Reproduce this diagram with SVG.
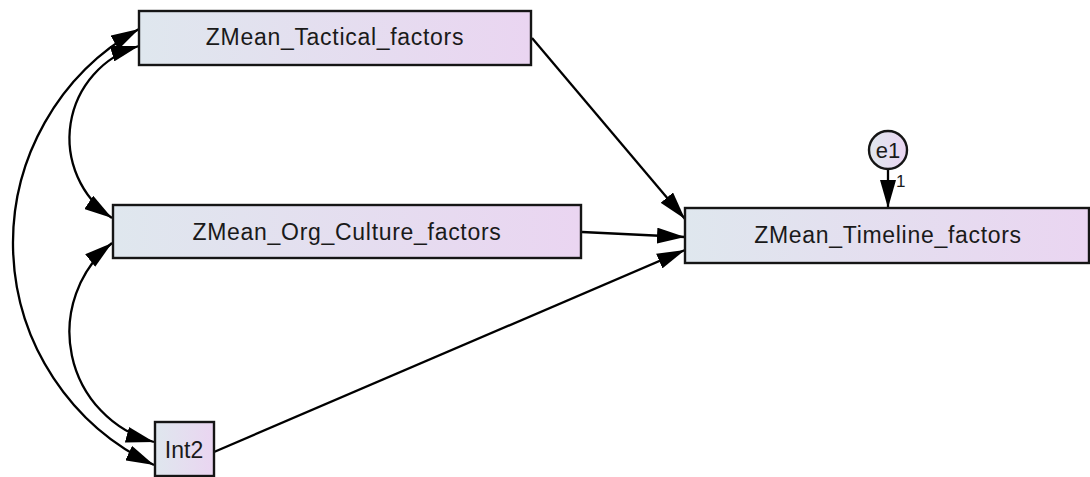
<svg xmlns="http://www.w3.org/2000/svg" width="1090" height="477" viewBox="0 0 1090 477">
  <defs>
    <linearGradient id="boxFill" x1="0" y1="0" x2="1" y2="0">
      <stop offset="0" stop-color="#dfe7ee"/>
      <stop offset="1" stop-color="#ead5f1"/>
    </linearGradient>
    <marker id="head" viewBox="0 0 28 16" refX="28" refY="8" markerWidth="28" markerHeight="16" markerUnits="userSpaceOnUse" orient="auto-start-reverse">
      <path d="M0,0 L28,8 L0,16 z" fill="#000"/>
    </marker>
    <style>
      .box { fill: url(#boxFill); stroke: #151515; stroke-width: 2.4; }
      .lbl { font-family: "Liberation Sans", Arial, sans-serif; font-size: 23px; fill: #1a1a1a; text-anchor: middle; letter-spacing: 0.7px; }
      .edge { fill: none; stroke: #000; stroke-width: 2.3; }
      .one { marker-end: url(#head); }
      .two { marker-start: url(#head); marker-end: url(#head); }
    </style>
  </defs>

  <!-- connectors -->
  <g id="connectors">
    <!-- covariances -->
    <path class="edge two" d="M139,29 A245,245 0 0 0 154,465"/>
    <path class="edge two" d="M139,46 A96,96 0 0 0 112,218"/>
    <path class="edge two" d="M112,243 A114,114 0 0 0 154,442"/>
    <!-- regressions -->
    <path class="edge one" d="M532,38 L685,219"/>
    <path class="edge one" d="M582,232 L685,237"/>
    <path class="edge one" d="M214,452 L685,250"/>
    <path class="edge one" d="M888,169 L888,208"/>
    <text x="896" y="187" font-family="'Liberation Sans', Arial, sans-serif" font-size="17" fill="#1a1a1a">1</text>
  </g>

  <g id="tactical">
    <rect class="box" x="139" y="11" width="392" height="54"/>
    <text class="lbl" x="335" y="45">ZMean_Tactical_factors</text>
  </g>

  <g id="orgculture">
    <rect class="box" x="113" y="205" width="468" height="53"/>
    <text class="lbl" x="347" y="240">ZMean_Org_Culture_factors</text>
  </g>

  <g id="timeline">
    <rect class="box" x="685" y="208" width="404" height="55"/>
    <text class="lbl" x="888" y="243">ZMean_Timeline_factors</text>
  </g>

  <g id="int2">
    <rect class="box" x="155" y="422" width="59" height="54"/>
    <text class="lbl" x="184" y="458" style="letter-spacing:0">Int2</text>
  </g>

  <g id="e1">
    <circle class="box" cx="888" cy="150" r="19"/>
    <text class="lbl" x="888" y="158" style="letter-spacing:0;font-size:22px">e1</text>
  </g>
</svg>
